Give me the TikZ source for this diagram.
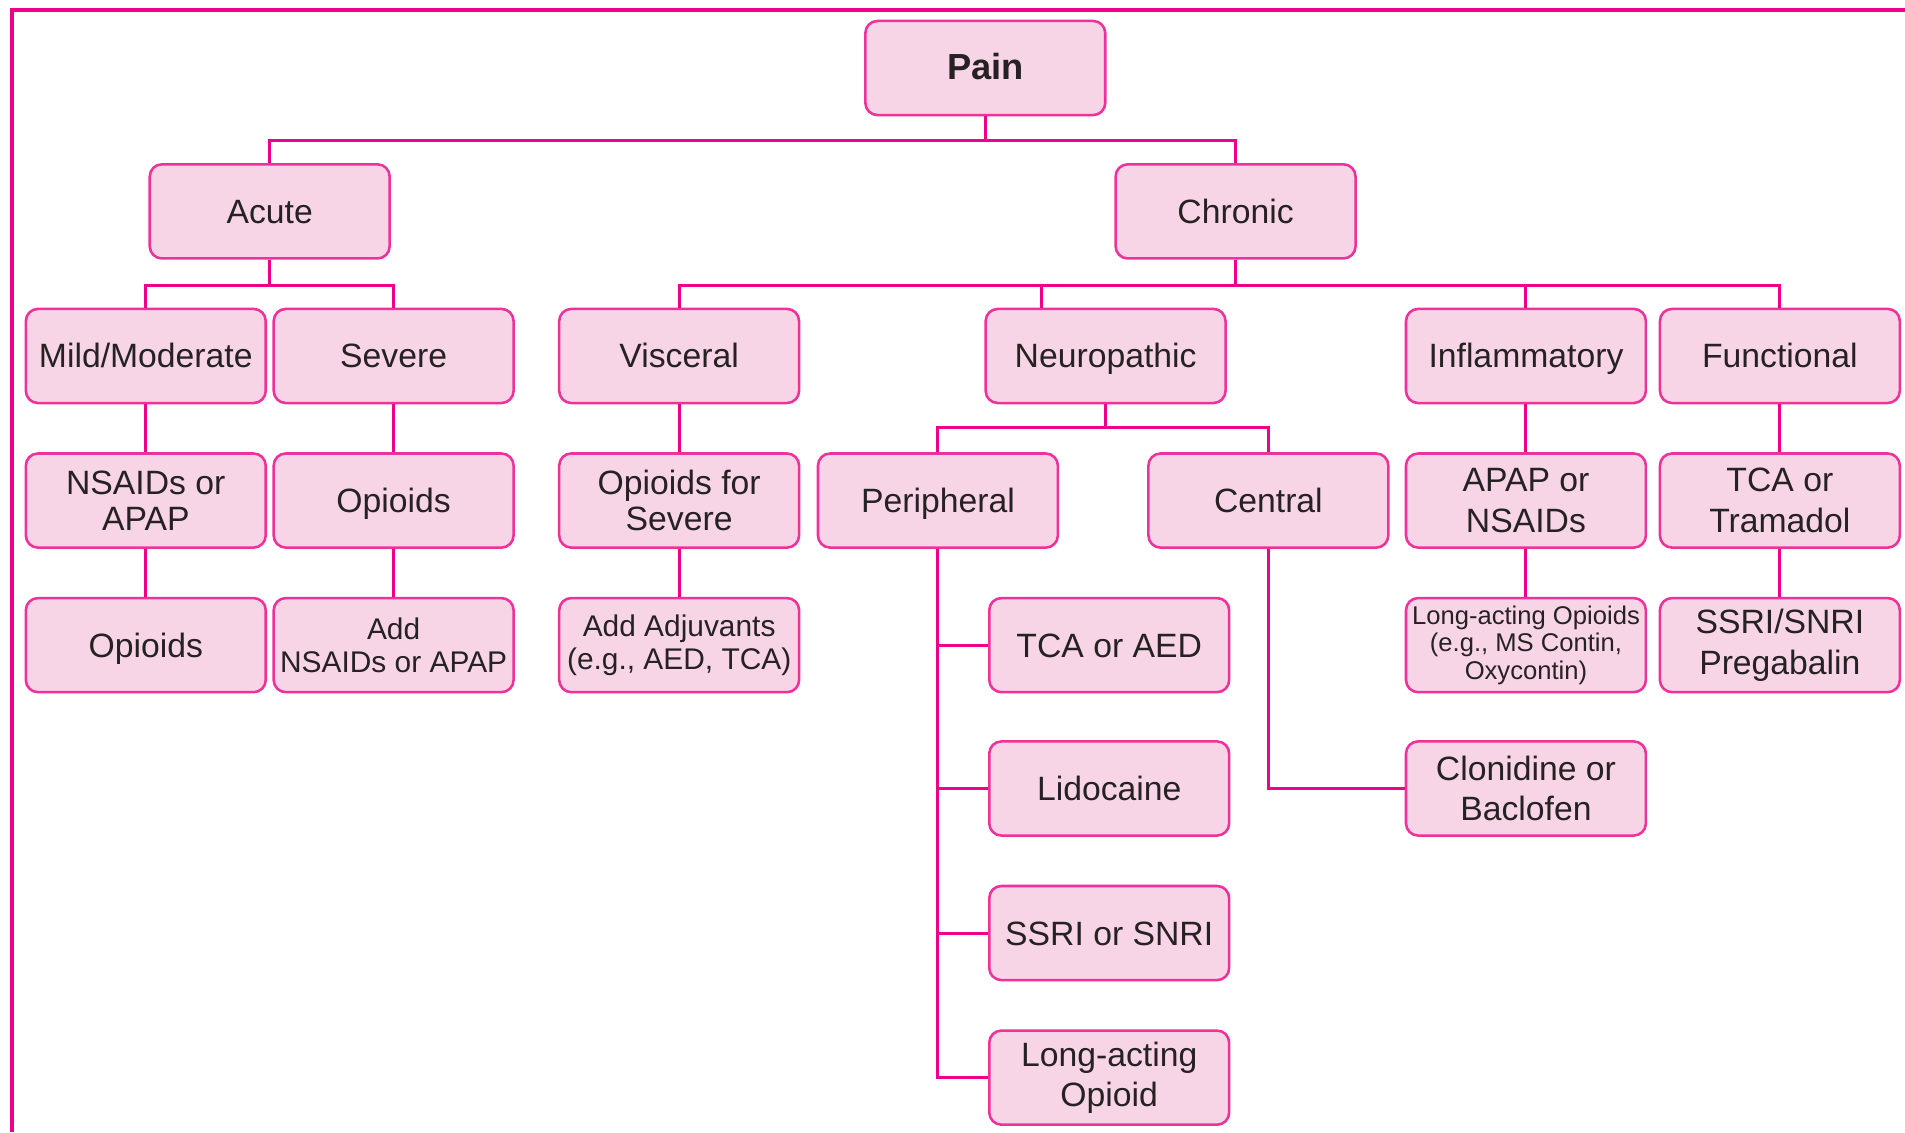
\documentclass[tikz,border=0pt]{standalone}
\usepackage{fontspec}
\setmainfont{Liberation Sans}
\definecolor{mag}{RGB}{236,0,140}
\definecolor{boxfill}{RGB}{248,213,230}
\definecolor{boxline}{RGB}{238,50,155}
\definecolor{txt}{RGB}{38,34,36}
\tikzset{
  box/.style={draw=boxline, line width=1.2pt, fill=boxfill, rounded corners=0.2cm,
    minimum width=3.95cm, minimum height=1.55cm, inner sep=1pt, align=center,
    text=txt, font=\fontsize{15.8}{19}\selectfont},
  one/.style={text height=12.6pt, text depth=1.4pt},
  smalltxt/.style={font=\fontsize{14}{15.5}\selectfont},
  tinytxt/.style={font=\fontsize{12}{12.8}\selectfont},
  midtxt/.style={font=\fontsize{15.8}{17}\selectfont},
  conn/.style={draw=mag, line width=1.4pt},
  frame/.style={draw=mag, line width=1.7pt}
}
\begin{document}
\begin{tikzpicture}[x=0.02cm, y=-0.02cm]
\useasboundingbox (0,0) rectangle (1568,932);
\draw[frame] (10,932) -- (10,8) -- (1568,8);

% nodes
\node[box, one, font=\bfseries\fontsize{17}{20}\selectfont] (pain) at (811,56) {Pain};
\node[box, one] (acute) at (222,174) {Acute};
\node[box, one] (chronic) at (1017,174) {Chronic};

\node[box, one] (mild) at (120,293) {Mild/Moderate};
\node[box, one] (severe) at (324,293) {Severe};
\node[box, one] (visceral) at (559,293) {Visceral};
\node[box, one] (neuro) at (910,293) {Neuropathic};
\node[box, one] (inflam) at (1256,293) {Inflammatory};
\node[box, one] (func) at (1465,293) {Functional};

\node[box, midtxt] (nsaids) at (120,412) {NSAIDs or\\APAP};
\node[box, one] (opA) at (324,412) {Opioids};
\node[box, midtxt] (opsev) at (559,412) {Opioids for\\Severe};
\node[box, one] (periph) at (772,412) {Peripheral};
\node[box, one] (central) at (1044,412) {Central};
\node[box] (apap) at (1256,412) {APAP or\\NSAIDs};
\node[box] (tca) at (1465,412) {TCA or\\Tramadol};

\node[box, one] (opB) at (120,531) {Opioids};
\node[box, smalltxt] (addn) at (324,531) {Add\\NSAIDs or APAP};
\node[box, smalltxt] (addadj) at (559,531) {Add Adjuvants\\(e.g., AED, TCA)};
\node[box, one] (tcaaed) at (913,531) {TCA or AED};
\node[box, tinytxt] (longop) at (1256,531) {Long-acting Opioids\\(e.g., MS Contin,\\Oxycontin)};
\node[box] (ssri) at (1465,531) {SSRI/SNRI\\Pregabalin};

\node[box, one] (lido) at (913,649) {Lidocaine};
\node[box, one] (ssrisnri) at (913,768) {SSRI or SNRI};
\node[box] (longact) at (913,887) {Long-acting\\Opioid};
\node[box] (clon) at (1256,649) {Clonidine or\\Baclofen};

% bus coordinates
\coordinate (b0) at (pain.south |- 0,116);
\coordinate (b1) at (acute.south |- 0,235);
\coordinate (b2) at (chronic.south |- 0,235);
\coordinate (b2n) at (857,235);
\coordinate (b3) at (neuro.south |- 0,352);

% connectors
\draw[conn] (pain.south) -- (b0);
\draw[conn] (acute.north) |- (b0) -| (chronic.north);

\draw[conn] (acute.south) -- (b1);
\draw[conn] (mild.north) |- (b1) -| (severe.north);

\draw[conn] (chronic.south) -- (b2);
\draw[conn] (visceral.north) |- (b2) -| (func.north);
\draw[conn] (b2n) -- (b2n |- neuro.north);
\draw[conn] (inflam.north) -- (inflam.north |- b2);

\draw[conn] (neuro.south) -- (b3);
\draw[conn] (periph.north) |- (b3) -| (central.north);

\draw[conn] (mild) -- (nsaids);
\draw[conn] (nsaids) -- (opB);
\draw[conn] (severe) -- (opA);
\draw[conn] (opA) -- (addn);
\draw[conn] (visceral) -- (opsev);
\draw[conn] (opsev) -- (addadj);
\draw[conn] (inflam) -- (apap);
\draw[conn] (apap) -- (longop);
\draw[conn] (func) -- (tca);
\draw[conn] (tca) -- (ssri);

\draw[conn] (periph.south) |- (longact.west);
\draw[conn] (periph.south |- tcaaed.west) -- (tcaaed.west);
\draw[conn] (periph.south |- lido.west) -- (lido.west);
\draw[conn] (periph.south |- ssrisnri.west) -- (ssrisnri.west);

\draw[conn] (central.south) |- (clon.west);
\end{tikzpicture}
\end{document}
